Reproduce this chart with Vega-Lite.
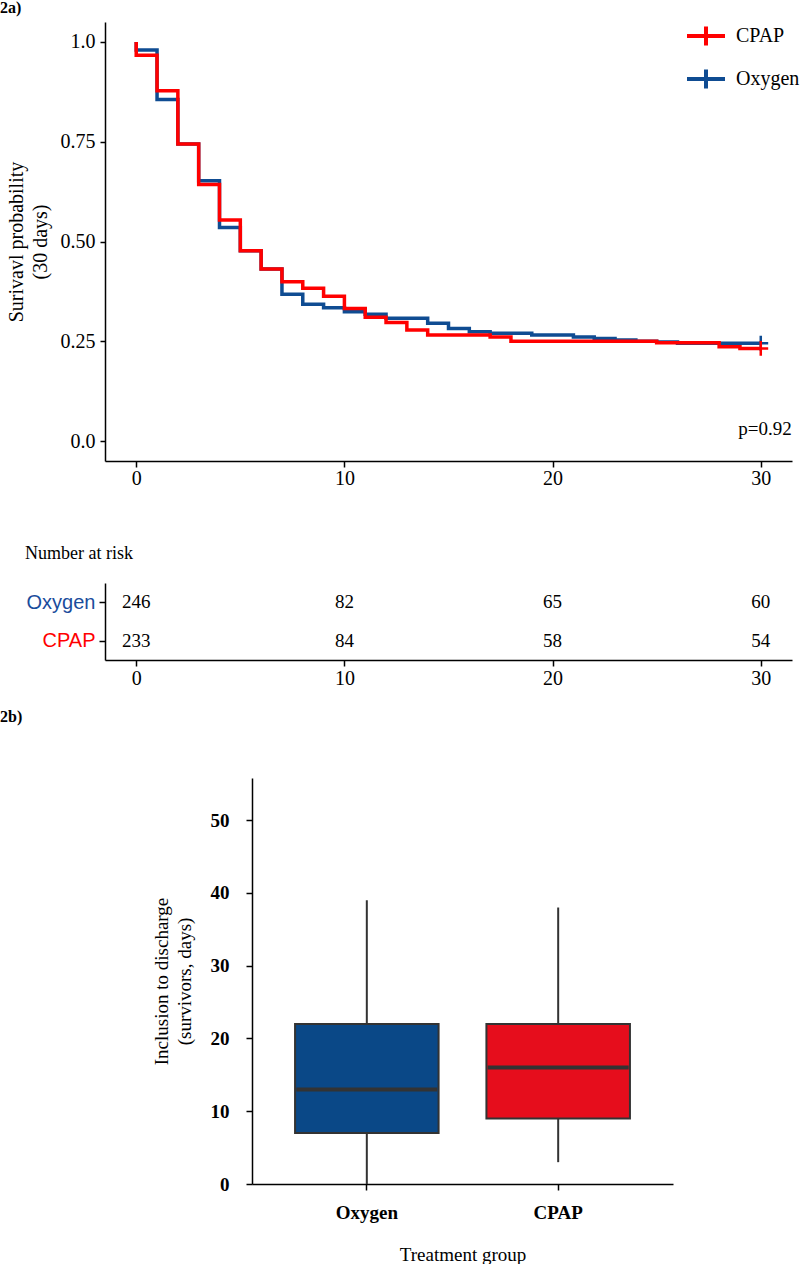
{
  "$schema": "https://vega.github.io/schema/vega-lite/v6.json",
  "padding": 0,
  "background": "white",
  "config": {
    "view": {"stroke": null},
    "font": "Liberation Serif",
    "axis": {"domainColor": "black", "domainWidth": 1.5, "tickColor": "black", "tickWidth": 1.5, "grid": false, "labelColor": "black", "titleColor": "black", "labelFont": "Liberation Serif", "titleFont": "Liberation Serif", "titleFontWeight": "normal"},
    "title": {"font": "Liberation Serif", "fontWeight": "bold", "fontSize": 16, "anchor": "start", "frame": "group", "color": "black"}
  },
  "datasets": {
    "km": [
      {"group": "Oxygen", "time": 0, "surv": 1.0},
      {"group": "Oxygen", "time": 0, "surv": 0.98},
      {"group": "Oxygen", "time": 1, "surv": 0.856},
      {"group": "Oxygen", "time": 2, "surv": 0.744},
      {"group": "Oxygen", "time": 3, "surv": 0.652},
      {"group": "Oxygen", "time": 4, "surv": 0.535},
      {"group": "Oxygen", "time": 5, "surv": 0.477},
      {"group": "Oxygen", "time": 6, "surv": 0.431},
      {"group": "Oxygen", "time": 7, "surv": 0.368},
      {"group": "Oxygen", "time": 8, "surv": 0.343},
      {"group": "Oxygen", "time": 9, "surv": 0.334},
      {"group": "Oxygen", "time": 10, "surv": 0.324},
      {"group": "Oxygen", "time": 11, "surv": 0.318},
      {"group": "Oxygen", "time": 12, "surv": 0.308},
      {"group": "Oxygen", "time": 14, "surv": 0.295},
      {"group": "Oxygen", "time": 15, "surv": 0.282},
      {"group": "Oxygen", "time": 16, "surv": 0.274},
      {"group": "Oxygen", "time": 17, "surv": 0.27},
      {"group": "Oxygen", "time": 19, "surv": 0.266},
      {"group": "Oxygen", "time": 21, "surv": 0.261},
      {"group": "Oxygen", "time": 22, "surv": 0.257},
      {"group": "Oxygen", "time": 23, "surv": 0.253},
      {"group": "Oxygen", "time": 24, "surv": 0.25},
      {"group": "Oxygen", "time": 25, "surv": 0.248},
      {"group": "Oxygen", "time": 26, "surv": 0.245},
      {"group": "Oxygen", "time": 30, "surv": 0.245},
      {"group": "CPAP", "time": 0, "surv": 1.0},
      {"group": "CPAP", "time": 0, "surv": 0.967},
      {"group": "CPAP", "time": 1, "surv": 0.878},
      {"group": "CPAP", "time": 2, "surv": 0.744},
      {"group": "CPAP", "time": 3, "surv": 0.643},
      {"group": "CPAP", "time": 4, "surv": 0.554},
      {"group": "CPAP", "time": 5, "surv": 0.477},
      {"group": "CPAP", "time": 6, "surv": 0.431},
      {"group": "CPAP", "time": 7, "surv": 0.399},
      {"group": "CPAP", "time": 8, "surv": 0.383},
      {"group": "CPAP", "time": 9, "surv": 0.363},
      {"group": "CPAP", "time": 10, "surv": 0.332},
      {"group": "CPAP", "time": 11, "surv": 0.31},
      {"group": "CPAP", "time": 12, "surv": 0.297},
      {"group": "CPAP", "time": 13, "surv": 0.278},
      {"group": "CPAP", "time": 14, "surv": 0.266},
      {"group": "CPAP", "time": 17, "surv": 0.261},
      {"group": "CPAP", "time": 18, "surv": 0.25},
      {"group": "CPAP", "time": 25, "surv": 0.246},
      {"group": "CPAP", "time": 28, "surv": 0.236},
      {"group": "CPAP", "time": 29, "surv": 0.232},
      {"group": "CPAP", "time": 30, "surv": 0.232}
    ],
    "censor": [
      {"group": "Oxygen", "time": 30, "surv": 0.245},
      {"group": "CPAP", "time": 30, "surv": 0.232}
    ],
    "risk": [
      {"group": "Oxygen", "time": 0, "n": 246},
      {"group": "Oxygen", "time": 10, "n": 82},
      {"group": "Oxygen", "time": 20, "n": 65},
      {"group": "Oxygen", "time": 30, "n": 60},
      {"group": "CPAP", "time": 0, "n": 233},
      {"group": "CPAP", "time": 10, "n": 84},
      {"group": "CPAP", "time": 20, "n": 58},
      {"group": "CPAP", "time": 30, "n": 54}
    ],
    "box": [
      {"group": "Oxygen", "lower": 0, "q1": 7, "median": 13, "q3": 22, "upper": 39},
      {"group": "CPAP", "lower": 3, "q1": 9, "median": 16, "q3": 22, "upper": 38}
    ]
  },
  "spacing": 21,
  "vconcat": [
    {
      "spacing": 57,
      "vconcat": [
        {
          "title": {"text": "2a)", "dx": -105, "offset": 6},
          "width": 687,
          "height": 439,
          "layer": [
            {
              "data": {"name": "km"},
              "transform": [{"filter": "datum.group === 'Oxygen'"}],
              "mark": {"type": "line", "interpolate": "step-after", "strokeWidth": 3.5},
              "encoding": {
                "x": {"field": "time", "type": "quantitative", "scale": {"domain": [-1.5, 31.5], "nice": false, "zero": false},
                  "axis": {"values": [0, 10, 20, 30], "title": null, "labelFontSize": 20, "tickSize": 6, "labelPadding": 1}},
                "y": {"field": "surv", "type": "quantitative", "scale": {"domain": [-0.05, 1.05], "nice": false, "zero": false},
                  "axis": {"title": ["Surivavl probability", "(30 days)"], "values": [0, 0.25, 0.5, 0.75, 1],
                    "labelExpr": "datum.value == 0 ? '0.0' : datum.value == 1 ? '1.0' : format(datum.value, '.2f')",
                    "labelFontSize": 20, "tickSize": 5, "labelPadding": 5, "titleFontSize": 20, "titlePadding": 10, "titleLineHeight": 24}},
                "color": {"field": "group", "type": "nominal", "scale": {"domain": ["CPAP", "Oxygen"], "range": ["#FF0000", "#0F4C92"]},
                  "legend": {"orient": "none", "legendX": 580, "legendY": -7, "title": null, "symbolType": "M-1,0H1M0,-0.5V0.5", "symbolSize": 1444, "symbolStrokeWidth": 4, "labelFont": "Liberation Serif", "labelFontSize": 20, "labelColor": "black", "labelOffset": 9, "rowPadding": 4, "padding": 0}}
              }
            },
            {
              "data": {"name": "km"},
              "transform": [{"filter": "datum.group === 'CPAP'"}],
              "mark": {"type": "line", "interpolate": "step-after", "strokeWidth": 3.5},
              "encoding": {
                "x": {"field": "time", "type": "quantitative"},
                "y": {"field": "surv", "type": "quantitative"},
                "color": {"field": "group", "type": "nominal"}
              }
            },
            {
              "data": {"name": "censor"},
              "mark": {"type": "point", "shape": "M-1,0H1M0,-1V1", "filled": false, "size": 220, "strokeWidth": 2.5, "opacity": 1},
              "encoding": {
                "x": {"field": "time", "type": "quantitative"},
                "y": {"field": "surv", "type": "quantitative"},
                "color": {"field": "group", "type": "nominal"}
              }
            },
            {
              "data": {"values": [{}]},
              "mark": {"type": "text", "fontSize": 19, "font": "Liberation Serif", "color": "black"},
              "encoding": {
                "x": {"datum": 30.2, "type": "quantitative"},
                "y": {"datum": 0.03, "type": "quantitative"},
                "text": {"value": "p=0.92"}
              }
            }
          ]
        },
        {
          "title": {"text": "Number at risk", "dx": -80, "fontWeight": "normal", "fontSize": 18, "offset": 20},
          "width": 687,
          "height": 77,
          "data": {"name": "risk"},
          "mark": {"type": "text", "fontSize": 19, "font": "Liberation Serif", "color": "black"},
          "encoding": {
            "x": {"field": "time", "type": "quantitative", "scale": {"domain": [-1.5, 31.5], "nice": false, "zero": false},
              "axis": {"values": [0, 10, 20, 30], "title": null, "labelFontSize": 20, "tickSize": 6, "labelPadding": 2}},
            "y": {"field": "group", "type": "nominal", "sort": ["Oxygen", "CPAP"], "scale": {"paddingOuter": 0.1, "paddingInner": 0},
              "axis": {"title": null, "labelFont": "Liberation Sans", "labelFontSize": 20, "tickSize": 6, "labelPadding": 4,
                "labelColor": {"condition": {"test": "datum.value === 'Oxygen'", "value": "#1A4C9C"}, "value": "#FF0000"}}},
            "text": {"field": "n", "type": "quantitative"}
          }
        }
      ]
    },
    {
      "title": {"text": "2b)", "dx": -105, "offset": 53},
      "spacing": 0,
      "hconcat": [
        {
          "width": 47,
          "height": 406,
          "data": {"values": [{}]},
          "mark": {"type": "text"},
          "encoding": {"text": {"value": ""}}
        },
        {
          "width": 421,
          "height": 406,
          "data": {"name": "box"},
          "encoding": {
            "x": {"field": "group", "type": "nominal", "sort": ["Oxygen", "CPAP"], "scale": {"paddingInner": 0, "paddingOuter": 0.1},
              "axis": {"title": "Treatment group", "labelAngle": 0, "labelFontSize": 19, "labelFontWeight": "bold", "tickSize": 6, "labelPadding": 13, "titleFontSize": 19, "titlePadding": 23}}
          },
          "layer": [
            {
              "mark": {"type": "rule", "color": "#333333", "strokeWidth": 2},
              "encoding": {
                "y": {"field": "lower", "type": "quantitative", "scale": {"domain": [0, 55.8], "nice": false},
                  "axis": {"title": ["Inclusion to discharge", "(survivors, days)"], "values": [0, 10, 20, 30, 40, 50], "labelFontSize": 19, "labelFontWeight": "bold", "tickSize": 6, "labelPadding": 17, "titleFontSize": 19, "titlePadding": 16, "titleLineHeight": 23}},
                "y2": {"field": "upper"}
              }
            },
            {
              "mark": {"type": "bar", "stroke": "#333333", "strokeWidth": 2, "width": {"band": 0.75}},
              "encoding": {
                "y": {"field": "q1", "type": "quantitative"},
                "y2": {"field": "q3"},
                "fill": {"field": "group", "type": "nominal", "scale": {"domain": ["Oxygen", "CPAP"], "range": ["#0A4887", "#E60D1C"]}, "legend": null}
              }
            },
            {
              "mark": {"type": "tick", "color": "#333333", "thickness": 4, "size": 141, "opacity": 1},
              "encoding": {
                "y": {"field": "median", "type": "quantitative"}
              }
            }
          ]
        }
      ]
    }
  ]
}
